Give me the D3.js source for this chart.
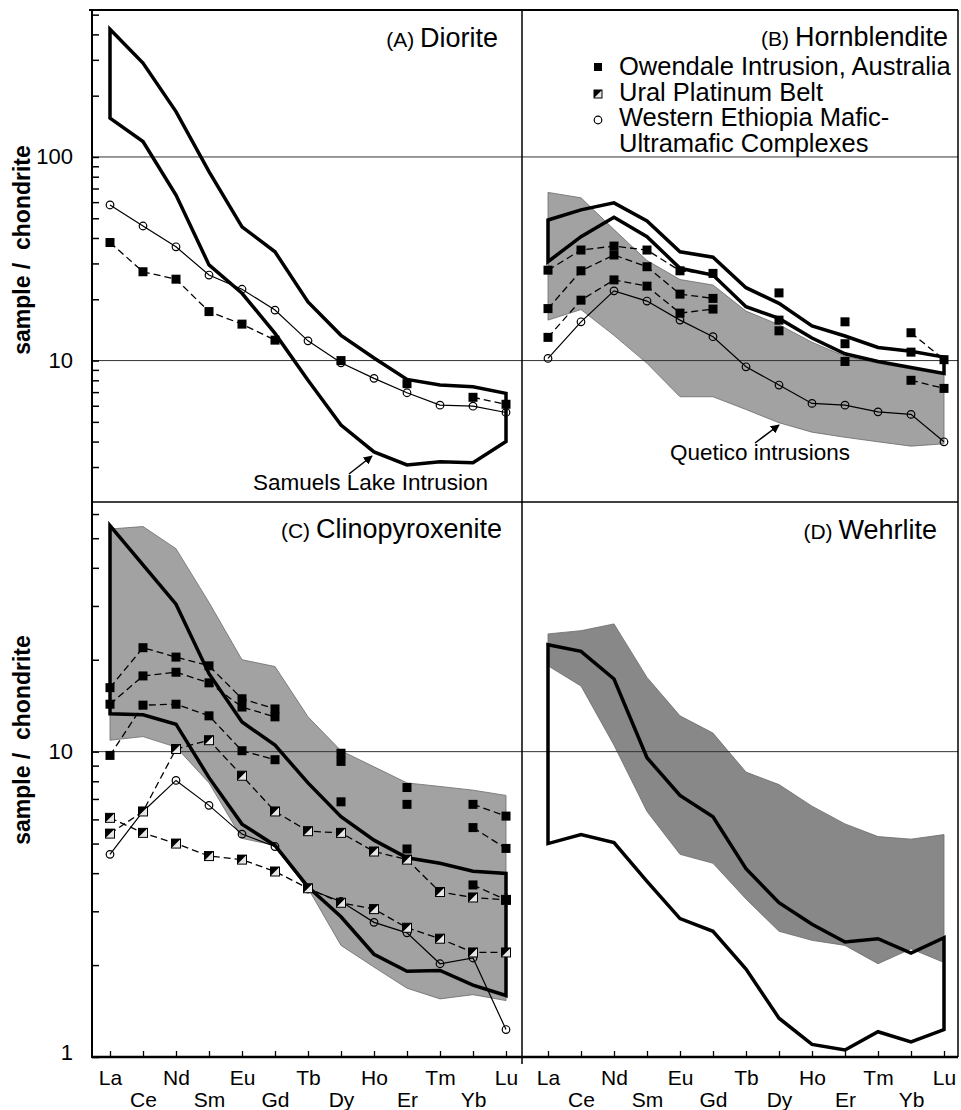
<!DOCTYPE html>
<html>
<head>
<meta charset="utf-8">
<script src="https://cdn.jsdelivr.net/npm/d3@7"></script>
<style>
  body { margin: 0; background: #fff; }
  svg { display: block; font-family: "Liberation Sans", Arial, Helvetica, sans-serif; }
</style>
</head>
<body>
<svg id="chart"></svg>
<script>
const elements = ['La', 'Ce', 'Nd', 'Sm', 'Eu', 'Gd', 'Tb', 'Dy', 'Ho', 'Er', 'Tm', 'Yb', 'Lu'];

// (A) Diorite
const dioriteSamuelsUpper = [424, 289, 167, 84.7, 45.4, 34.2, 19.4, 13.3, 10.3, 8.08, 7.58, 7.43, 6.9];
const dioriteSamuelsLower = [155, 119, 65, 29.5, 21.4, 13.6, 8.0, 4.82, 3.56, 3.07, 3.18, 3.15, 4.0];
const dioriteOwendale = [38, 27.3, 25.1, 17.4, 15.1, 12.6, null, 10.0, null, 7.7, null, 6.6, 6.1];
const dioriteEthiopia = [58.1, 45.8, 36.2, 26.3, 22.4, 17.7, 12.5, 9.75, 8.18, 6.95, 6.04, 5.97, 5.56];

// (B) Hornblendite
const hornQueticoUpper = [67, 63, 44, 31, 25, 23.5, 17.5, 15, 12.3, 10.5, 9.7, 9.1, 8.5];
const hornQueticoLower = [15.8, 17.8, 13.3, 9.7, 6.64, 6.64, 5.75, 4.95, 4.45, 4.2, 3.99, 3.8, 3.9];
const hornSamuelsUpper = [49, 55, 59.5, 48.5, 34.2, 32.2, 22.8, 19.1, 14.8, 13.2, 11.6, 11.1, 10.4];
const hornSamuelsLower = [30.6, 40.6, 50.6, 40.6, 28.4, 26.3, 18.4, 16.1, 12.9, 10.8, 9.9, 9.25, 8.65];
const hornOwendale1 = [27.8, 34.9, 36.5, 34.9, 27.6, 26.8, null, 21.5, null, 15.5, null, 13.7, 10.1];
const hornOwendale2 = [18.0, 27.6, 33.0, 28.9, 21.2, 20.2, null, 15.8, null, 12.1, null, 11.0, null];
const hornOwendale3 = [13.0, 19.8, 24.9, 23.2, 17.1, 17.9, null, 14.0, null, 9.9, null, 8.0, 7.3];
const hornEthiopia = [10.25, 15.5, 22.0, 19.6, 15.8, 13.1, 9.32, 7.58, 6.16, 6.04, 5.6, 5.44, 3.99];

// (C) Clinopyroxenite
const clinoQueticoUpper = [53.6, 54.6, 46.2, 30.8, 20.0, 19.0, 13.0, 10.07, 8.92, 7.9, 7.69, 7.48, 7.19];
const clinoQueticoLower = [10.9, 11.2, 10.35, 7.9, 5.2, 4.93, 3.57, 2.32, 1.97, 1.68, 1.55, 1.6, 1.53];
const clinoSamuelsUpper = [55.0, 40.9, 30.4, 18.0, 12.5, 10.5, 7.9, 6.12, 5.13, 4.49, 4.31, 4.06, 3.99];
const clinoSamuelsLower = [13.3, 13.2, 12.3, 8.22, 5.79, 4.93, 3.61, 2.88, 2.17, 1.91, 1.92, 1.72, 1.59];
const clinoOwendale1 = [16.2, 21.9, 20.4, 19.1, 14.9, 13.8, null, 9.88, null, 7.63, null, 6.72, 6.15];
const clinoOwendale2 = [14.3, 17.7, 18.2, 16.8, 14.0, 13.0, null, 9.29, null, 6.72, null, 5.64, 4.82];
const clinoOwendale3 = [9.72, 14.2, 14.3, 13.1, 10.07, 9.41, null, 6.85, null, 4.8, null, 3.66, 3.27];
const clinoUral1 = [5.39, 6.37, 10.2, 10.9, 8.34, 6.37, 5.49, 5.42, 4.71, 4.43, 3.47, 3.33, 3.27];
const clinoUral2 = [6.07, 5.42, 5.0, 4.55, 4.43, 4.05, 3.57, 3.2, 3.05, 2.65, 2.44, 2.2, 2.2];
const clinoEthiopia = [4.61, 6.37, 8.05, 6.67, 5.37, 4.89, 3.55, 3.23, 2.76, 2.55, 2.02, 2.11, 1.23];

// (D) Wehrlite
const wehrQueticoUpper = [24.3, 24.9, 26.2, 17.5, 13.1, 11.5, 8.57, 7.8, 6.63, 5.8, 5.27, 5.17, 5.35];
const wehrQueticoLower = [19.1, 16.4, 10.5, 6.37, 4.61, 4.31, 3.29, 2.58, 2.41, 2.32, 2.02, 2.26, 2.04];
const wehrSamuelsUpper = [22.4, 21.3, 17.3, 9.55, 7.19, 6.12, 4.14, 3.2, 2.72, 2.38, 2.44, 2.19, 2.46];
const wehrSamuelsLower = [5.0, 5.35, 5.04, 3.76, 2.84, 2.58, 1.94, 1.34, 1.1, 1.054, 1.21, 1.12, 1.23];

const legendLabels = ['Owendale Intrusion, Australia', 'Ural Platinum Belt', 'Western Ethiopia Mafic-', 'Ultramafic Complexes'];

const width = 961;
const height = 1110;

const svg = d3.select('#chart')
    .attr('width', width)
    .attr('height', height);

svg.append('rect').attr('width', width).attr('height', height).attr('fill', '#fff');

const xLeft = d3.scalePoint().domain(elements).range([110, 506]);
const xRight = d3.scalePoint().domain(elements).range([548, 944]);
const yTop = d3.scaleLog().domain([2.02, 527]).range([502, 10]);
const yBottom = d3.scaleLog().domain([1, 65.7]).range([1057, 502]);

const panels = [
    { x: xLeft, y: yTop, envelope: [dioriteSamuelsUpper, dioriteSamuelsLower],
      owendale: [dioriteOwendale], ural: [], ethiopia: [dioriteEthiopia],
      letter: '(A)', name: 'Diorite', tx: 498, ty: 47 },
    { x: xRight, y: yTop, shade: [hornQueticoUpper, hornQueticoLower], shadeFill: '#a2a2a2',
      envelope: [hornSamuelsUpper, hornSamuelsLower],
      owendale: [hornOwendale1, hornOwendale2, hornOwendale3], ural: [], ethiopia: [hornEthiopia],
      letter: '(B)', name: 'Hornblendite', tx: 948, ty: 46 },
    { x: xLeft, y: yBottom, shade: [clinoQueticoUpper, clinoQueticoLower], shadeFill: '#a2a2a2',
      envelope: [clinoSamuelsUpper, clinoSamuelsLower],
      owendale: [clinoOwendale1, clinoOwendale2, clinoOwendale3], ural: [clinoUral1, clinoUral2],
      ethiopia: [clinoEthiopia],
      letter: '(C)', name: 'Clinopyroxenite', tx: 502, ty: 538 },
    { x: xRight, y: yBottom, shade: [wehrQueticoUpper, wehrQueticoLower], shadeFill: '#888888',
      envelope: [wehrSamuelsUpper, wehrSamuelsLower],
      owendale: [], ural: [], ethiopia: [],
      letter: '(D)', name: 'Wehrlite', tx: 937, ty: 539 }
];

const bandArea = (p, lower) => d3.area()
    .x((d, i) => p.x(elements[i]))
    .y0((d, i) => p.y(lower[i]))
    .y1(d => p.y(d));

// shaded Quetico fields
panels.filter(p => p.shade).forEach(p => {
    svg.append('path')
        .datum(p.shade[0])
        .attr('d', bandArea(p, p.shade[1]))
        .attr('fill', p.shadeFill)
        .attr('stroke', '#6a6a6a')
        .attr('stroke-width', 0.8);
});

// grid lines
const grid = [[yTop, 100], [yTop, 10], [yBottom, 10]];
grid.forEach(([s, v]) => {
    svg.append('line')
        .attr('x1', 92).attr('x2', 958)
        .attr('y1', s(v)).attr('y2', s(v))
        .attr('stroke', '#333').attr('stroke-width', 1);
});

// frame
const frame = svg.append('g').attr('stroke', '#000').attr('fill', 'none');
frame.append('line').attr('x1', 89).attr('x2', 958).attr('y1', 10).attr('y2', 10).attr('stroke-width', 2);
frame.append('line').attr('x1', 958).attr('x2', 958).attr('y1', 10).attr('y2', 1057).attr('stroke-width', 1.5);
frame.append('line').attr('x1', 522).attr('x2', 522).attr('y1', 10).attr('y2', 1064).attr('stroke-width', 1.5);
frame.append('line').attr('x1', 92).attr('x2', 958).attr('y1', 502).attr('y2', 502).attr('stroke-width', 1.5);

// y axes: inward minor ticks + labels
[yTop, yBottom].forEach(s => {
    const g = svg.append('g')
        .attr('transform', 'translate(92,0)')
        .call(d3.axisRight(s).tickValues(s.ticks()).tickSize(7).tickFormat(''));
    g.select('.domain').remove();
    g.selectAll('.tick line').attr('stroke', '#000').attr('stroke-width', 1.5);
});
svg.append('line').attr('x1', 92).attr('x2', 92).attr('y1', 9).attr('y2', 1058)
    .attr('stroke', '#000').attr('stroke-width', 2);

const yLabels = [[yTop, 100, 0], [yTop, 10, 0], [yBottom, 10, 0], [yBottom, 1, -5]];
yLabels.forEach(([s, v, off]) => {
    svg.append('text')
        .attr('x', 73).attr('y', s(v) + off)
        .attr('text-anchor', 'end')
        .attr('dominant-baseline', 'central')
        .attr('font-size', 22)
        .text(v);
});

[[250], [740]].forEach(([cy]) => {
    svg.append('text')
        .attr('transform', `translate(22,${cy}) rotate(-90)`)
        .attr('text-anchor', 'middle')
        .attr('dominant-baseline', 'central')
        .attr('font-size', 23)
        .attr('font-weight', 'bold')
        .style('white-space', 'pre')
        .text('sample /  chondrite');
});

// x axes
[xLeft, xRight].forEach(s => {
    const ticks = svg.append('g')
        .attr('transform', 'translate(0,1057)')
        .call(d3.axisTop(s).tickSize(6).tickFormat(''));
    ticks.select('.domain').remove();
    ticks.selectAll('.tick line').attr('stroke', '#000').attr('stroke-width', 1.3);

    const labels = svg.append('g')
        .attr('transform', 'translate(0,1057)')
        .call(d3.axisBottom(s).tickSize(0).tickPadding(0));
    labels.select('.domain').remove();
    labels.selectAll('.tick text')
        .attr('font-size', 21)
        .attr('fill', '#000')
        .attr('font-family', null)
        .attr('dy', null)
        .attr('y', (d, i) => i % 2 === 0 ? 28 : 50);
});
svg.append('line').attr('x1', 92).attr('x2', 958).attr('y1', 1057).attr('y2', 1057)
    .attr('stroke', '#000').attr('stroke-width', 2.5);

// envelopes (Samuels Lake)
panels.forEach(p => {
    svg.append('path')
        .datum(p.envelope[0])
        .attr('d', bandArea(p, p.envelope[1]))
        .attr('fill', 'none')
        .attr('stroke', '#000')
        .attr('stroke-width', 3.5)
        .attr('stroke-linejoin', 'miter')
        .attr('stroke-miterlimit', 6);
});

const seriesLine = p => d3.line()
    .defined(d => d != null)
    .x((d, i) => p.x(elements[i]))
    .y(d => p.y(d));

const sq = 9;
function squareMarker(g, cx, cy, size) {
    g.append('rect')
        .attr('x', cx - size / 2).attr('y', cy - size / 2)
        .attr('width', size).attr('height', size)
        .attr('fill', '#000');
}
function halfMarker(g, cx, cy, size) {
    const h = size / 2;
    g.append('rect')
        .attr('x', cx - h).attr('y', cy - h)
        .attr('width', size).attr('height', size)
        .attr('fill', '#e6e6e6').attr('stroke', '#000').attr('stroke-width', 1);
    g.append('path')
        .attr('d', `M${cx - h},${cy - h}L${cx + h},${cy - h}L${cx - h},${cy + h}Z`)
        .attr('fill', '#000');
}
function circleMarker(g, cx, cy, r) {
    g.append('circle')
        .attr('cx', cx).attr('cy', cy).attr('r', r)
        .attr('fill', 'none').attr('stroke', '#000').attr('stroke-width', 1.2);
}

panels.forEach(p => {
    const line = seriesLine(p);
    p.ethiopia.forEach(s => {
        svg.append('path').datum(s).attr('d', line)
            .attr('fill', 'none').attr('stroke', '#000').attr('stroke-width', 1.2);
        const g = svg.append('g');
        s.forEach((v, i) => { if (v != null) circleMarker(g, p.x(elements[i]), p.y(v), 3.8); });
    });
    p.ural.forEach(s => {
        svg.append('path').datum(s).attr('d', line)
            .attr('fill', 'none').attr('stroke', '#000').attr('stroke-width', 1.3)
            .attr('stroke-dasharray', '7,4');
        const g = svg.append('g');
        s.forEach((v, i) => { if (v != null) halfMarker(g, p.x(elements[i]), p.y(v), sq); });
    });
    p.owendale.forEach(s => {
        svg.append('path').datum(s).attr('d', line)
            .attr('fill', 'none').attr('stroke', '#000').attr('stroke-width', 1.3)
            .attr('stroke-dasharray', '7,4');
        const g = svg.append('g');
        s.forEach((v, i) => { if (v != null) squareMarker(g, p.x(elements[i]), p.y(v), sq); });
    });
});

// panel titles
panels.forEach(p => {
    const t = svg.append('text')
        .attr('x', p.tx).attr('y', p.ty)
        .attr('text-anchor', 'end')
        .style('white-space', 'pre');
    t.append('tspan').attr('font-size', 21).text(p.letter + ' ');
    t.append('tspan').attr('font-size', 27).text(p.name);
});

// legend
const legend = svg.append('g');
squareMarker(legend, 598, 67, 8);
halfMarker(legend, 598, 94, 8);
circleMarker(legend, 598, 120, 3.8);
legendLabels.forEach((label, i) => {
    legend.append('text')
        .attr('x', 619).attr('y', 75 + i * 25.7)
        .attr('font-size', 25.5)
        .text(label);
});

// annotations
svg.append('defs').append('marker')
    .attr('id', 'arrow')
    .attr('viewBox', '0 0 10 10')
    .attr('refX', 9).attr('refY', 5)
    .attr('markerWidth', 9).attr('markerHeight', 9)
    .attr('markerUnits', 'userSpaceOnUse')
    .attr('orient', 'auto')
    .append('path').attr('d', 'M0,0L10,5L0,10Z').attr('fill', '#000');

const notes = [
    { text: 'Samuels Lake Intrusion', x: 253, y: 490, from: [349, 474], to: [372, 456] },
    { text: 'Quetico intrusions', x: 670, y: 460, from: [755, 443], to: [779, 425] }
];
notes.forEach(n => {
    svg.append('text').attr('x', n.x).attr('y', n.y).attr('font-size', 22.5).text(n.text);
    svg.append('line')
        .attr('x1', n.from[0]).attr('y1', n.from[1])
        .attr('x2', n.to[0]).attr('y2', n.to[1])
        .attr('stroke', '#000').attr('stroke-width', 1.5)
        .attr('marker-end', 'url(#arrow)');
});
</script>
</body>
</html>
